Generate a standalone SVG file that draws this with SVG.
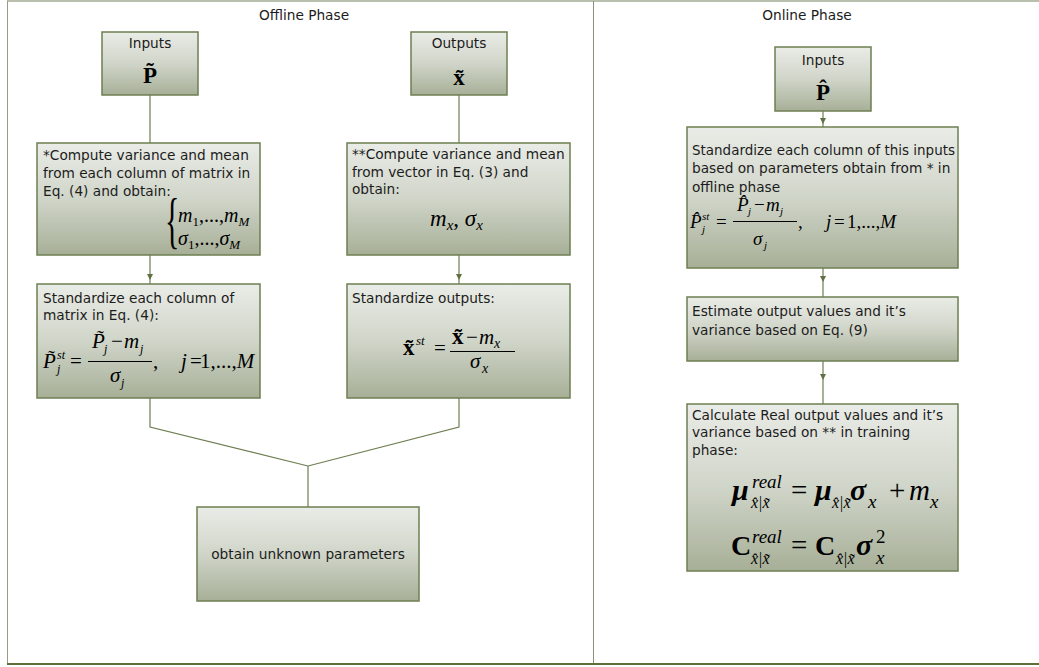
<svg xmlns="http://www.w3.org/2000/svg" width="1039" height="667" viewBox="0 0 1039 667">
<defs>
<linearGradient id="g" x1="0" y1="0" x2="0" y2="1">
<stop offset="0" stop-color="#eaece7"/>
<stop offset="0.5" stop-color="#d0d5c9"/>
<stop offset="1" stop-color="#a7af97"/>
</linearGradient>
<marker id="ah" viewBox="0 0 10 10" refX="10" refY="5" markerWidth="6" markerHeight="6" markerUnits="userSpaceOnUse" orient="auto">
<path d="M0,0 L10,5 L0,10 z" fill="#5f7041"/>
</marker>
<style>
.box{fill:url(#g);stroke:#6e7f52;stroke-width:1.5}
.t{font-family:"DejaVu Sans","Liberation Sans",sans-serif;font-size:13.7px;fill:#1c1c1c}
.m{font-family:"Liberation Serif","DejaVu Serif",serif;font-style:italic;fill:#000}
.r{font-family:"Liberation Serif","DejaVu Serif",serif;fill:#000}
.b{font-family:"Liberation Serif","DejaVu Serif",serif;font-weight:bold;fill:#000}
.bi{font-family:"Liberation Serif","DejaVu Serif",serif;font-weight:bold;font-style:italic;fill:#000}
.c{fill:none;stroke:#6e7f52;stroke-width:1.2}
.fb{stroke:#000;stroke-width:1}
</style>
</defs>
<rect width="1039" height="667" fill="#fff"/>
<g id="frame">
<line x1="7" y1="1" x2="1039" y2="1" stroke="#a3ab93" stroke-width="1.5"/>
<line x1="7.5" y1="1" x2="7.5" y2="664" stroke="#9a9a8c" stroke-width="1"/>
<line x1="593.5" y1="1" x2="593.5" y2="664" stroke="#8e8e80" stroke-width="1"/>
<line x1="7" y1="664" x2="1039" y2="664" stroke="#5d6f3d" stroke-width="2"/>
<text class="t" x="304" y="20" text-anchor="middle">Offline Phase</text>
<text class="t" x="807" y="20" text-anchor="middle">Online Phase</text>
</g>
<g id="connectors">
<path class="c" d="M150,95 V143"/>
<path class="c" d="M459,95 V143"/>
<path class="c" d="M150,255 V280 V284" marker-mid="url(#ah)"/>
<path class="c" d="M459,255 V280 V284" marker-mid="url(#ah)"/>
<path class="c" d="M150,398 V427 L308,466 M459,398 V427 L308,466 M308,466 V507"/>
<path class="c" d="M823,111 V124 V127" marker-mid="url(#ah)"/>
<path class="c" d="M823,268 V282 V297" marker-mid="url(#ah)"/>
<path class="c" d="M823,361 V380 V404" marker-mid="url(#ah)"/>
</g>
<g id="in-offline">
<rect class="box" x="102" y="32" width="96" height="63"/>
<text class="t" x="150" y="48" text-anchor="middle">Inputs</text>
<text class="b" x="150" y="83" font-size="23" text-anchor="middle">P&#x303;</text>
</g>
<g id="out-offline">
<rect class="box" x="411" y="32" width="96" height="63"/>
<text class="t" x="459" y="48" text-anchor="middle">Outputs</text>
<text class="b" x="459" y="85" font-size="23" text-anchor="middle">x&#x303;</text>
</g>
<g id="compute-in">
<rect class="box" x="37" y="143" width="223" height="112"/>
<text class="t" x="43" y="160">*Compute variance and mean</text>
<text class="t" x="43" y="178">from each column of matrix in</text>
<text class="t" x="43" y="196">Eq. (4) and obtain:</text>
<text class="r" font-size="30" transform="translate(165,241) scale(1,2.05)">{</text>
<text class="m" font-size="20" y="222"><tspan x="178">m</tspan><tspan dy="4" font-size="13" font-style="normal">1</tspan><tspan dy="-4" font-style="normal">,...,</tspan><tspan>m</tspan><tspan dy="4" font-size="13">M</tspan></text>
<text class="m" font-size="20" y="245"><tspan x="178">σ</tspan><tspan dy="4" font-size="13" font-style="normal">1</tspan><tspan dy="-4" font-style="normal">,...,</tspan><tspan>σ</tspan><tspan dy="4" font-size="13">M</tspan></text>
</g>
<g id="compute-out">
<rect class="box" x="347" y="143" width="223" height="112"/>
<text class="t" x="352" y="159">**Compute variance and mean</text>
<text class="t" x="352" y="177">from vector in Eq. (3) and</text>
<text class="t" x="352" y="194">obtain:</text>
<text class="m" font-size="23" y="226"><tspan x="430">m</tspan><tspan dy="4" font-size="15">x</tspan><tspan dy="-4" font-style="normal">, </tspan><tspan>σ</tspan><tspan dy="4" font-size="15">x</tspan></text>
</g>
<g id="std-in">
<rect class="box" x="37" y="284" width="223" height="114"/>
<text class="t" x="43" y="303">Standardize each column of</text>
<text class="t" x="43" y="320">matrix in Eq. (4):</text>
<text class="m" x="43" y="368" font-size="21">P&#x303;</text>
<text class="m" x="57" y="359" font-size="12">st</text>
<text class="m" x="57" y="373" font-size="12">j</text>
<text class="r" x="70" y="368" font-size="21">=</text>
<line class="fb" x1="88" y1="361.5" x2="152" y2="361.5"/>
<text class="m" x="92" y="348" font-size="21">P&#x303;</text>
<text class="m" x="104" y="353" font-size="12">j</text>
<text class="r" x="111" y="348" font-size="21">−</text>
<text class="m" x="124" y="348" font-size="21">m</text>
<text class="m" x="140" y="353" font-size="12">j</text>
<text class="m" x="110" y="382" font-size="21">σ</text>
<text class="m" x="121" y="387" font-size="12">j</text>
<text class="r" x="153" y="368" font-size="21">,</text>
<text class="m" x="181" y="368" font-size="21">j</text>
<text class="r" x="190" y="368" font-size="21">=</text>
<text class="r" x="200" y="368" font-size="21">1,...,<tspan class="m">M</tspan></text>
</g>
<g id="std-out">
<rect class="box" x="347" y="284" width="223" height="114"/>
<text class="t" x="352" y="303">Standardize outputs:</text>
<text class="b" x="403" y="355" font-size="23">x&#x303;</text>
<text class="m" x="416" y="345" font-size="13">st</text>
<text class="r" x="434" y="355" font-size="21">=</text>
<line class="fb" x1="450" y1="351.5" x2="515" y2="351.5"/>
<text class="b" x="452" y="344" font-size="23">x&#x303;</text>
<text class="r" x="466" y="344" font-size="21">−</text>
<text class="m" x="479" y="344" font-size="21">m</text>
<text class="m" x="494" y="348" font-size="14">x</text>
<text class="m" x="470" y="368" font-size="21">σ</text>
<text class="m" x="482" y="373" font-size="14">x</text>
</g>
<g id="obtain">
<rect class="box" x="197" y="507" width="222" height="94"/>
<text class="t" x="308" y="559" text-anchor="middle">obtain unknown parameters</text>
</g>
<g id="in-online">
<rect class="box" x="775" y="47" width="96" height="64"/>
<text class="t" x="823" y="65" text-anchor="middle">Inputs</text>
<text class="b" x="823" y="100" font-size="23" text-anchor="middle">P&#x302;</text>
</g>
<g id="std-online">
<rect class="box" x="687" y="127" width="271" height="141"/>
<text class="t" x="692" y="155" textLength="263" lengthAdjust="spacingAndGlyphs">Standardize each column of this inputs</text>
<text class="t" x="692" y="173">based on parameters obtain from * in</text>
<text class="t" x="692" y="192">offline phase</text>
<text class="m" x="690" y="228" font-size="19">P&#x302;</text>
<text class="m" x="702" y="220" font-size="11">st</text>
<text class="m" x="702" y="233" font-size="11">j</text>
<text class="r" x="716" y="228" font-size="19">=</text>
<line class="fb" x1="733" y1="221.5" x2="797" y2="221.5"/>
<text class="m" x="737" y="211" font-size="19">P&#x302;</text>
<text class="m" x="748" y="215" font-size="11">j</text>
<text class="r" x="754" y="211" font-size="19">−</text>
<text class="m" x="766" y="211" font-size="19">m</text>
<text class="m" x="780" y="215" font-size="11">j</text>
<text class="m" x="753" y="245" font-size="19">σ</text>
<text class="m" x="764" y="249" font-size="11">j</text>
<text class="r" x="798" y="228" font-size="19">,</text>
<text class="m" x="826" y="228" font-size="19">j</text>
<text class="r" x="834" y="228" font-size="19">=</text>
<text class="r" x="847" y="228" font-size="19">1,...,<tspan class="m">M</tspan></text>
</g>
<g id="estimate">
<rect class="box" x="687" y="297" width="271" height="64"/>
<text class="t" x="692" y="316">Estimate output values and it’s</text>
<text class="t" x="692" y="335">variance based on Eq. (9)</text>
</g>
<g id="calculate">
<rect class="box" x="687" y="404" width="271" height="167"/>
<text class="t" x="692" y="420">Calculate Real output values and it’s</text>
<text class="t" x="692" y="437">variance based on ** in training</text>
<text class="t" x="692" y="455">phase:</text>
<text class="bi" x="732" y="500" font-size="30">μ</text>
<text class="m" x="752" y="488" font-size="19">real</text>
<text class="m" x="751" y="508" font-size="16">x&#x302;|x&#x303;</text>
<text class="r" x="791" y="500" font-size="29">=</text>
<text class="bi" x="815" y="500" font-size="30">μ</text>
<text class="m" x="832" y="508" font-size="16">x&#x302;|x&#x303;</text>
<text class="bi" x="850" y="500" font-size="30">σ</text>
<text class="m" x="868" y="508" font-size="19">x</text>
<text class="r" x="889" y="500" font-size="29">+</text>
<text class="m" x="909" y="500" font-size="29">m</text>
<text class="m" x="930" y="508" font-size="19">x</text>
<text class="b" x="731" y="555" font-size="28">C</text>
<text class="m" x="752" y="543" font-size="19">real</text>
<text class="m" x="751" y="564" font-size="16">x&#x302;|x&#x303;</text>
<text class="r" x="791" y="555" font-size="29">=</text>
<text class="b" x="815" y="555" font-size="28">C</text>
<text class="m" x="836" y="564" font-size="16">x&#x302;|x&#x303;</text>
<text class="bi" x="856" y="555" font-size="30">σ</text>
<text class="r" x="876" y="543" font-size="19">2</text>
<text class="m" x="876" y="564" font-size="19">x</text>
</g>
</svg>
